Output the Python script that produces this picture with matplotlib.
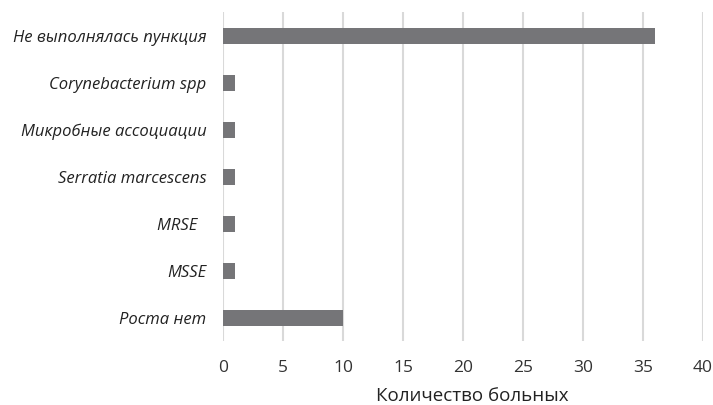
import matplotlib
matplotlib.use('Agg')
import matplotlib.pyplot as plt

# bacteriology results, listed bottom to top
categories = ["Роста нет", "MSSE", "MRSE  ", "Serratia marcescens",
              "Микробные ассоциации", "Corynebacterium spp", "Не выполнялась пункция"]
patients = [10, 1, 1, 1, 1, 1, 36]
x_ticks = [0, 5, 10, 15, 20, 25, 30, 35, 40]

plt.rcParams['font.family'] = ['Open Sans', 'DejaVu Sans']

fig = plt.figure(figsize=(7.13, 4.05), dpi=100)
ax = fig.add_axes([0.3128, 0.158, 0.6732, 0.812])

ax.barh(range(len(categories)), patients, height=0.34, color='#757578', zorder=3)

ax.set_xlim(0, 40)
ax.set_ylim(-0.5, len(categories) - 0.5)
ax.set_xticks(x_ticks)
ax.set_xticklabels([str(t) for t in x_ticks], fontsize=12.5, color='#333333')
ax.set_yticks(range(len(categories)))
ax.set_yticklabels(categories, fontsize=12, style='italic', color='#222222')
ax.tick_params(axis='both', length=0)
ax.tick_params(axis='x', pad=14)
ax.tick_params(axis='y', pad=12)

ax.grid(axis='x', color='#d9d9d9', linewidth=1.5, zorder=0)
for s in ax.spines.values():
    s.set_visible(False)

ax.set_xlabel("Количество больных", fontsize=13.5, color='#222222')
ax.xaxis.set_label_coords(0.519, -0.141)

fig.savefig('out.png', dpi=100)
